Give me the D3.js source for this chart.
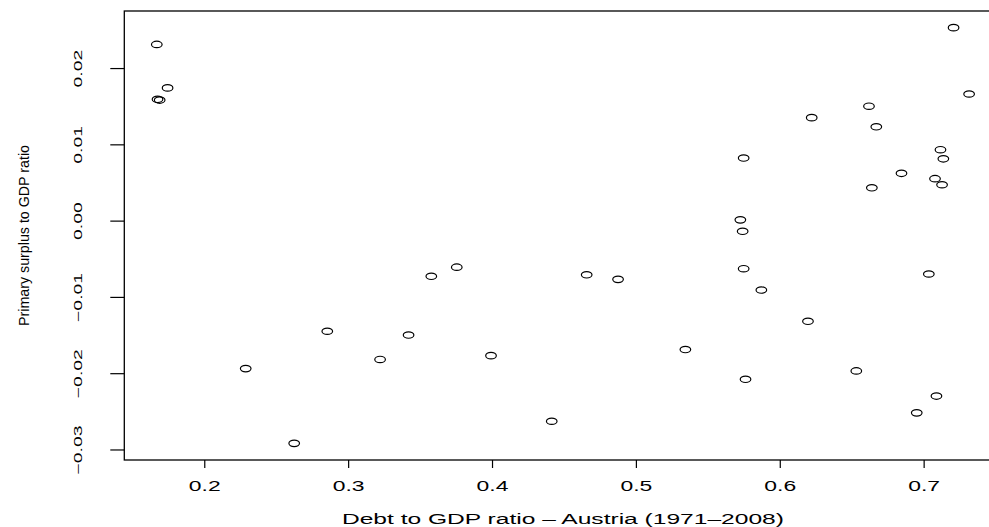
<!DOCTYPE html>
<html>
<head>
<meta charset="utf-8">
<script src="https://cdn.jsdelivr.net/npm/d3@7"></script>
<style>
  body { margin: 0; background: #fff; }
  text { font-family: "Liberation Sans", Arial, Helvetica, sans-serif; fill: #000; }
</style>
</head>
<body>
<div id="chart"></div>
<script>
// debt to GDP ratio vs primary surplus to GDP ratio, Austria 1971-2008
var debt = [0.1670, 0.1675, 0.1690, 0.1745, 0.2288, 0.2625, 0.2855, 0.3222, 0.3420, 0.3578,
            0.3755, 0.3993, 0.4415, 0.4658, 0.4876, 0.5344, 0.5726, 0.5742, 0.5749, 0.5749,
            0.5762, 0.5872, 0.6196, 0.6222, 0.6532, 0.6620, 0.6640, 0.6671, 0.6846, 0.6952,
            0.7036, 0.7079, 0.7089, 0.7117, 0.7128, 0.7137, 0.7208, 0.7316];
var surplus = [0.0231, 0.0159, 0.0158, 0.0174, -0.0194, -0.0292, -0.0145, -0.0182, -0.0150, -0.0073,
               -0.0061, -0.0177, -0.0263, -0.0071, -0.0077, -0.0169, 0.0001, -0.0014, 0.0082, -0.0063,
               -0.0208, -0.0091, -0.0132, 0.0135, -0.0197, 0.0150, 0.0043, 0.0123, 0.0062, -0.0252,
               -0.0070, 0.0055, -0.0230, 0.0093, 0.0047, 0.0081, 0.0253, 0.0166];
var xTicks = [0.2, 0.3, 0.4, 0.5, 0.6, 0.7];
var yTicks = [-0.03, -0.02, -0.01, 0.00, 0.01, 0.02];
var xTitle = "Debt to GDP ratio \u2013 Austria (1971\u20132008)";
var yTitle = "Primary surplus to GDP ratio";

var svgWidth = 989, svgHeight = 527;
var margin = {left: 124.3, right: 1001.6, top: 11, bottom: 460};

var data = debt.map((d, i) => ({x: d, y: surplus[i]}));

var svg = d3.select("#chart").append("svg")
    .attr("width", svgWidth)
    .attr("height", svgHeight);

// R style 4% padding on each side
function pad(ext) {
    var r = ext[1] - ext[0];
    return [ext[0] - 0.04 * r, ext[1] + 0.04 * r];
}

var x = d3.scaleLinear()
    .domain(pad(d3.extent(data, d => d.x)))
    .range([margin.left, margin.right]);
var y = d3.scaleLinear()
    .domain(pad(d3.extent(data, d => d.y)))
    .range([margin.bottom, margin.top]);

// x axis
var gx = svg.append("g")
    .attr("transform", `translate(0, ${margin.bottom})`)
    .call(d3.axisBottom(x).tickValues(xTicks).tickSize(8).tickSizeOuter(0).tickFormat(d3.format(".1f")));
gx.select(".domain").remove();
gx.selectAll("line").attr("stroke", "#000").attr("stroke-width", 1.2);
gx.selectAll("text")
    .attr("y", 31.5).attr("dy", 0)
    .attr("font-size", 15.5)
    .attr("transform", "scale(1.48,1)");

// y axis
var gy = svg.append("g")
    .attr("transform", `translate(${margin.left}, 0)`)
    .call(d3.axisLeft(y).tickValues(yTicks).tickSize(14).tickSizeOuter(0).tickFormat(d3.format(".2f")));
gy.select(".domain").remove();
gy.selectAll("line").attr("stroke", "#000").attr("stroke-width", 1.2);
gy.selectAll("text")
    .attr("x", 0).attr("y", 0).attr("dy", 0)
    .attr("text-anchor", "middle")
    .attr("font-size", 11.5)
    .attr("transform", "translate(-42,0) rotate(-90) scale(1.69,1)");

// plot box
svg.append("rect")
    .attr("x", margin.left).attr("y", margin.top)
    .attr("width", margin.right - margin.left).attr("height", margin.bottom - margin.top)
    .attr("fill", "none").attr("stroke", "#000").attr("stroke-width", 1.3);

// points
svg.append("g").selectAll("ellipse")
    .data(data)
    .enter()
    .append("ellipse")
    .attr("cx", d => x(d.x))
    .attr("cy", d => y(d.y))
    .attr("rx", 5.3)
    .attr("ry", 3.2)
    .attr("fill", "none")
    .attr("stroke", "#000")
    .attr("stroke-width", 1.2);

// axis titles
svg.append("text")
    .attr("x", (margin.left + margin.right) / 2)
    .attr("y", 524)
    .attr("text-anchor", "middle")
    .attr("font-size", 15.5)
    .attr("textLength", 442)
    .attr("lengthAdjust", "spacingAndGlyphs")
    .text(xTitle);

svg.append("text")
    .attr("transform", `translate(29, ${(margin.top + margin.bottom) / 2}) rotate(-90)`)
    .attr("text-anchor", "middle")
    .attr("font-size", 15)
    .attr("textLength", 181)
    .attr("lengthAdjust", "spacingAndGlyphs")
    .text(yTitle);
</script>
</body>
</html>
